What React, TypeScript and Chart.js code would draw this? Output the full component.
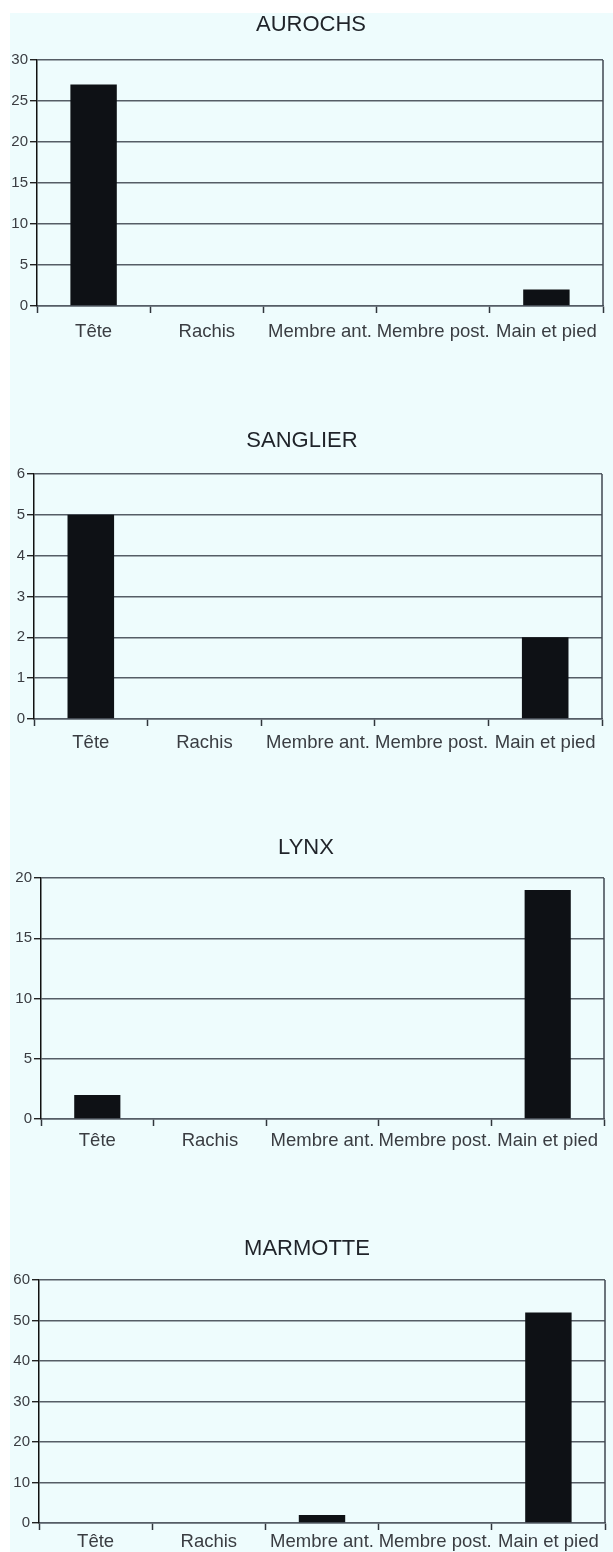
import React, { useEffect, useRef } from "react";
import { Chart, registerables } from "chart.js";

Chart.register(...registerables);

// ---- data ----
const categories = ["Tête", "Rachis", "Membre ant.", "Membre post.", "Main et pied"];
const aurochsValues = [27, 0, 0, 0, 2];
const sanglierValues = [5, 0, 0, 0, 2];
const lynxValues = [2, 0, 0, 0, 19];
const marmotteValues = [0, 0, 2, 0, 52];
const titles = ["AUROCHS", "SANGLIER", "LYNX", "MARMOTTE"];
const seriesList = [aurochsValues, sanglierValues, lynxValues, marmotteValues];
const yMaxList = [30, 6, 20, 60];
const yStepList = [5, 1, 5, 10];

// ---- layout (page pixels) ----
const PAGE_W = 613;
const PAGE_H = 1552;
const LAYOUT = [
  { axisLeft: 37, right: 603, plotTop: 60, plotBottom: 306, titleY: 24.5, titleX: 311, labelY: 332 },
  { axisLeft: 34, right: 602, plotTop: 474, plotBottom: 719, titleY: 440.5, titleX: 302, labelY: 743 },
  { axisLeft: 41, right: 604, plotTop: 878, plotBottom: 1119, titleY: 847.5, titleX: 306, labelY: 1141 },
  { axisLeft: 39, right: 605, plotTop: 1280, plotBottom: 1523, titleY: 1248.5, titleX: 307, labelY: 1542 },
];

const FONT = "'Liberation Sans', Arial, Helvetica, sans-serif";
const TITLE_SIZE = 22;
const XLABEL_SIZE = 18.5;
const YLABEL_SIZE = 15;
const TICK_LEN = 7;
const X_AXIS_H = 44;
const BG = "#eefcfd";
const GRID = "#555d66";
const BAR = "#0e1115";

function Panel({ idx }: { idx: number }) {
  const ref = useRef<HTMLCanvasElement | null>(null);
  const L = LAYOUT[idx];
  const padR = PAGE_W - L.right;
  const canvasTop = Math.round(L.titleY - 20);
  const padTop = L.plotTop - canvasTop;
  const canvasH = L.plotBottom + X_AXIS_H - canvasTop;
  const labelPad = L.labelY - L.plotBottom - TICK_LEN - (XLABEL_SIZE * 1.2) / 2;

  useEffect(() => {
    if (!ref.current) return;
    const decoPlugin = {
      id: "decoPanel",
      afterDatasetsDraw(chart: any) {
        const { ctx, chartArea } = chart;
        ctx.save();
        ctx.strokeStyle = "#3f4750";
        ctx.lineWidth = 1.5;
        ctx.beginPath();
        ctx.moveTo(chartArea.right, chartArea.top);
        ctx.lineTo(chartArea.right, chartArea.bottom);
        ctx.stroke();
        ctx.restore();
      },
      afterDraw(chart: any) {
        const { ctx } = chart;
        ctx.save();
        ctx.fillStyle = "#1f2329";
        ctx.font = `${TITLE_SIZE}px ${FONT}`;
        ctx.textAlign = "center";
        ctx.textBaseline = "middle";
        ctx.fillText(titles[idx], L.titleX, L.titleY - canvasTop);
        ctx.restore();
      },
    };
    const chart = new Chart(ref.current, {
      type: "bar",
      data: {
        labels: categories,
        datasets: [
          {
            data: seriesList[idx],
            backgroundColor: BAR,
            borderWidth: 0,
            categoryPercentage: 1,
            barPercentage: 0.41,
          },
        ],
      },
      options: {
        responsive: false,
        animation: false,
        devicePixelRatio: 1,
        layout: { padding: { left: 0, right: padR, top: padTop, bottom: 0 } },
        plugins: {
          legend: { display: false },
          tooltip: { enabled: false },
          title: { display: false },
        },
        scales: {
          x: {
            offset: true,
            grid: {
              offset: true,
              drawOnChartArea: false,
              drawTicks: true,
              tickLength: TICK_LEN,
              tickColor: "#30363c",
              tickWidth: 1.5,
            },
            border: { display: true, color: GRID, width: 1.5 },
            ticks: {
              autoSkip: false,
              maxRotation: 0,
              minRotation: 0,
              padding: labelPad,
              color: "#3a3d42",
              font: { family: FONT, size: XLABEL_SIZE },
            },
            afterFit: (s: any) => {
              s.height = X_AXIS_H;
            },
          },
          y: {
            min: 0,
            max: yMaxList[idx],
            ticks: {
              stepSize: yStepList[idx],
              padding: 2,
              color: "#3a3d42",
              font: { family: FONT, size: YLABEL_SIZE },
            },
            grid: {
              color: GRID,
              lineWidth: 1.4,
              drawTicks: true,
              tickLength: TICK_LEN,
              tickColor: "#222",
              tickWidth: 1.4,
            },
            border: { display: true, color: "#111", width: 1.5 },
            afterFit: (s: any) => {
              s.width = L.axisLeft;
            },
          },
        },
      },
      plugins: [decoPlugin],
    });
    return () => chart.destroy();
  }, [idx]);

  return (
    <canvas
      ref={ref}
      width={PAGE_W}
      height={canvasH}
      style={{ position: "absolute", left: 0, top: canvasTop, width: PAGE_W, height: canvasH }}
    />
  );
}

export default function App() {
  return (
    <div
      style={{
        position: "fixed",
        left: 0,
        top: 0,
        width: PAGE_W,
        height: PAGE_H,
        overflow: "hidden",
        background: "#ffffff",
      }}
    >
      <div
        style={{
          position: "absolute",
          left: 10,
          top: 13,
          width: PAGE_W - 10,
          height: PAGE_H - 13,
          background: BG,
        }}
      />
      {titles.map((_, i) => (
        <Panel key={i} idx={i} />
      ))}
    </div>
  );
}
